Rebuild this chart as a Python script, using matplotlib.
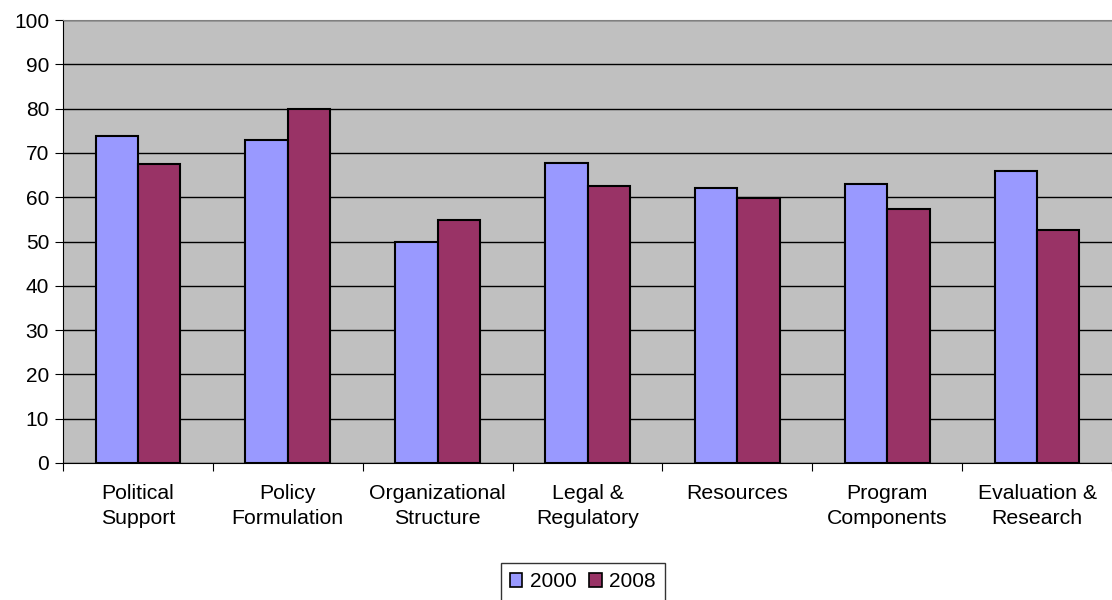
import matplotlib.pyplot as plt
import numpy as np
from matplotlib.patches import Patch

categories = ['Political\nSupport', 'Policy\nFormulation', 'Organizational\nStructure',
              'Legal &\nRegulatory', 'Resources', 'Program\nComponents', 'Evaluation &\nResearch']
vals2000 = [73.9, 73.0, 49.9, 67.8, 62.1, 63.0, 66.0]
vals2008 = [67.4, 80.0, 54.8, 62.6, 59.9, 57.4, 52.6]
series_names = ['2000', '2008']

plt.rcParams['font.family'] = ['Liberation Sans', 'DejaVu Sans']

fig = plt.figure(figsize=(11.12, 6), dpi=100)
ax = fig.add_axes([63 / 1112, 137 / 600, 1 - 63 / 1112, 443 / 600])
ax.set_facecolor('#C0C0C0')

x = np.arange(len(categories))
w = 0.283
ax.bar(x - w / 2, vals2000, w, color='#9999FF', edgecolor='black', linewidth=1.5, zorder=3)
ax.bar(x + w / 2, vals2008, w, color='#993366', edgecolor='black', linewidth=1.5, zorder=3)

ax.set_xlim(-0.5, len(categories) - 0.5)
ax.set_ylim(0, 100)
ax.set_yticks(np.arange(0, 101, 10))
ax.yaxis.grid(True, color='black', linewidth=1, zorder=1)
ax.set_axisbelow(True)

ax.set_xticks(np.arange(len(categories) + 1) - 0.5)
ax.set_xticklabels([])
ax.set_xticks(x, minor=True)
ax.set_xticklabels(categories, minor=True, fontsize=15.3, linespacing=1.42)
ax.tick_params(axis='x', which='minor', length=0, pad=15)
ax.tick_params(axis='x', which='major', length=6, direction='out', color='black')
ax.tick_params(axis='y', length=6, direction='out', labelsize=15, pad=4)

ax.spines['right'].set_visible(False)
ax.spines['top'].set_color('#808080')
ax.spines['left'].set_color('black')
ax.spines['bottom'].set_color('black')

handles = [Patch(facecolor='#9999FF', edgecolor='black', linewidth=1.2),
           Patch(facecolor='#993366', edgecolor='black', linewidth=1.2)]
leg = fig.legend(handles, series_names, loc='upper center', bbox_to_anchor=(0.524, 1 - 563 / 600),
                 ncol=2, fontsize=15, frameon=True, fancybox=False, handlelength=0.6,
                 handleheight=0.6, handletextpad=0.35, columnspacing=0.6, borderpad=0.45,
                 borderaxespad=0)
leg.get_frame().set_edgecolor('black')
leg.get_frame().set_linewidth(1)

fig.savefig('out.png', dpi=100)
